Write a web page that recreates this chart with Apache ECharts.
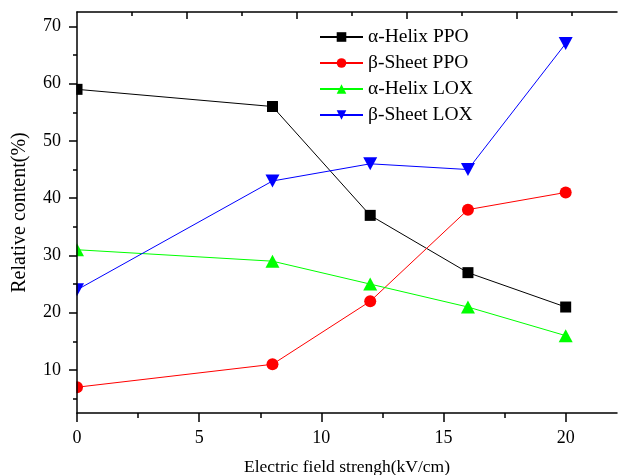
<!DOCTYPE html>
<html>
<head>
<meta charset="utf-8">
<script src="https://cdn.jsdelivr.net/npm/echarts@6/dist/echarts.min.js"></script>
<style>html,body{margin:0;padding:0;background:#fff}#c{width:618px;height:475px}</style>
</head>
<body>
<div id="c"></div>
<script>
const xValues = [0, 8, 12, 16, 20];
const seriesNames = ['α-Helix PPO', 'β-Sheet PPO', 'α-Helix LOX', 'β-Sheet LOX'];
const alphaHelixPPO = [59, 56, 37, 27, 21];
const betaSheetPPO = [7, 11, 22, 38, 41];
const alphaHelixLOX = [31, 29, 25, 21, 16];
const betaSheetLOX = [24, 43, 46, 45, 67];
const xTickLabels = [0, 5, 10, 15, 20];
const xMinorTicks = [2.5, 7.5, 12.5, 17.5];
const yTickLabels = [10, 20, 30, 40, 50, 60, 70];
const yMinorTicks = [5, 15, 25, 35, 45, 55, 65];
const topMajorTicks = [4.5, 9, 13.5, 18];
const topMinorTicks = [2.25, 6.75, 11.25, 15.75, 20.25];

const FONT = 'Liberation Serif';
const X_MIN = 0, X_MAX = 22.1, Y_MIN = 2.5, Y_MAX = 72.5;
const gridRect = {left: 77, right: 1, top: 12, bottom: 62, outerBoundsMode: 'none', containLabel: false};
const lineStyleAxis = {color: '#000', width: 1.5};

function pairs(vals) { return xValues.map((x, i) => [x, vals[i]]); }

const chart = echarts.init(document.getElementById('c'), null, {renderer: 'canvas'});
const option = {
  animation: false,
  backgroundColor: '#fff',
  grid: [Object.assign({}, gridRect), Object.assign({}, gridRect)],
  legend: {
    left: 314, top: 22, orient: 'vertical',
    itemWidth: 43, itemHeight: 12, itemGap: 6,
    textStyle: {fontFamily: FONT, fontSize: 19.5, color: '#000', lineHeight: 19},
    data: seriesNames
  },
  graphic: [{
    type: 'rect', shape: {x: 0, y: 0, width: 76.3, height: 475},
    style: {fill: '#fff'}, z: 5, silent: true
  }],
  xAxis: [
    { gridIndex: 0, type: 'value', position: 'bottom', min: X_MIN, max: X_MAX, z: 10,
      axisLine: {show: true, onZero: false, lineStyle: lineStyleAxis},
      axisTick: {show: true, inside: false, length: 9, lineStyle: lineStyleAxis, customValues: xTickLabels},
      axisLabel: {show: true, margin: 16, fontFamily: FONT, fontSize: 18, color: '#000', customValues: xTickLabels},
      splitLine: {show: false},
      name: 'Electric field strengh(kV/cm)', nameLocation: 'middle', nameGap: 45,
      nameTextStyle: {fontFamily: FONT, fontSize: 17.5, color: '#000'} },
    { gridIndex: 0, type: 'value', position: 'top', min: X_MIN, max: X_MAX, z: 10,
      axisLine: {show: true, onZero: false, lineStyle: lineStyleAxis},
      axisTick: {show: true, inside: true, length: 7, lineStyle: lineStyleAxis, customValues: topMajorTicks},
      axisLabel: {show: false}, splitLine: {show: false} },
    { gridIndex: 1, type: 'value', position: 'bottom', min: X_MIN, max: X_MAX, z: 10,
      axisLine: {show: false, onZero: false},
      axisTick: {show: true, inside: false, length: 5, lineStyle: lineStyleAxis, customValues: xMinorTicks},
      axisLabel: {show: false}, splitLine: {show: false} },
    { gridIndex: 1, type: 'value', position: 'top', min: X_MIN, max: X_MAX, z: 10,
      axisLine: {show: false, onZero: false},
      axisTick: {show: true, inside: true, length: 4, lineStyle: lineStyleAxis, customValues: topMinorTicks},
      axisLabel: {show: false}, splitLine: {show: false} }
  ],
  yAxis: [
    { gridIndex: 0, type: 'value', position: 'left', min: Y_MIN, max: Y_MAX, z: 10,
      axisLine: {show: true, onZero: false, lineStyle: lineStyleAxis},
      axisTick: {show: true, inside: false, length: 8, lineStyle: lineStyleAxis, customValues: yTickLabels},
      axisLabel: {show: true, margin: 16, fontFamily: FONT, fontSize: 18, color: '#000', customValues: yTickLabels},
      splitLine: {show: false},
      name: 'Relative content(%)', nameLocation: 'middle', nameGap: 47, nameRotate: 90,
      nameTextStyle: {fontFamily: FONT, fontSize: 20, color: '#000'} },
    { gridIndex: 1, type: 'value', position: 'left', min: Y_MIN, max: Y_MAX, z: 10,
      axisLine: {show: false, onZero: false},
      axisTick: {show: true, inside: false, length: 4, lineStyle: lineStyleAxis, customValues: yMinorTicks},
      axisLabel: {show: false}, splitLine: {show: false} }
  ],
  series: [
    { name: seriesNames[0], type: 'line', xAxisIndex: 0, yAxisIndex: 0, data: pairs(alphaHelixPPO),
      symbol: 'rect', symbolSize: 11, z: 2, clip: false,
      itemStyle: {color: '#000'}, lineStyle: {color: '#000', width: 1} },
    { name: seriesNames[1], type: 'line', xAxisIndex: 0, yAxisIndex: 0, data: pairs(betaSheetPPO),
      symbol: 'circle', symbolSize: 12, z: 2, clip: false,
      itemStyle: {color: '#ff0000'}, lineStyle: {color: '#ff0000', width: 1} },
    { name: seriesNames[2], type: 'line', xAxisIndex: 0, yAxisIndex: 0, data: pairs(alphaHelixLOX),
      symbol: 'triangle', symbolSize: [14, 13], z: 2, clip: false,
      itemStyle: {color: '#00ff00'}, lineStyle: {color: '#00ff00', width: 1} },
    { name: seriesNames[3], type: 'line', xAxisIndex: 0, yAxisIndex: 0, data: pairs(betaSheetLOX),
      symbol: 'path://M0,0 L14,0 L7,13 Z', symbolSize: [14, 13], z: 2, clip: false,
      itemStyle: {color: '#0000ff'}, lineStyle: {color: '#0000ff', width: 1} }
  ]
};
chart.setOption(option);
</script>
</body>
</html>
